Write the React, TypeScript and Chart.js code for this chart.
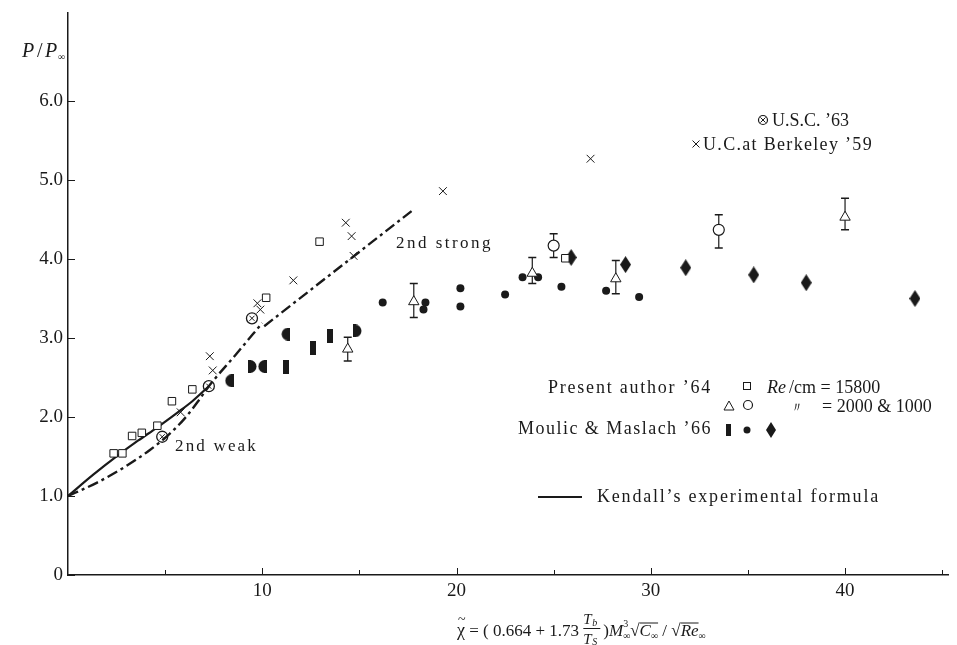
import React, { useEffect, useRef } from 'react';
import { Chart, registerables } from 'chart.js';
Chart.register(...registerables);

// ---- data ----
const squareX = [2.35, 2.8, 3.3, 3.8, 4.6, 5.35, 6.4, 10.2, 12.95, 25.6];
const squareY = [1.54, 1.54, 1.76, 1.8, 1.89, 2.2, 2.35, 3.51, 4.22, 4.01];
const crossX = [5.8, 7.3, 7.45, 9.75, 9.9, 11.6, 14.3, 14.6, 14.7, 19.3, 26.9];
const crossY = [2.06, 2.77, 2.59, 3.44, 3.36, 3.73, 4.46, 4.29, 4.04, 4.86, 5.27];
const uscX = [4.85, 7.25, 9.47];
const uscY = [1.75, 2.39, 3.25];
const triX = [14.4, 17.8, 23.9, 28.2, 40.0];
const triY = [2.86, 3.46, 3.82, 3.75, 4.53];
const triLo = [2.71, 3.26, 3.69, 3.56, 4.37];
const triHi = [3.01, 3.69, 4.02, 3.98, 4.77];
const circX = [25.0, 33.5];
const circY = [4.17, 4.37];
const circLo = [4.02, 4.14];
const circHi = [4.32, 4.56];
const barX = [11.2, 12.6, 13.5];
const barY = [2.63, 2.87, 3.02];
const halfLX = [8.3, 10.0, 11.2];
const halfLY = [2.46, 2.64, 3.05];
const halfRX = [9.5, 14.9];
const halfRY = [2.64, 3.09];
const dotX = [16.2, 18.4, 18.3, 20.2, 20.2, 22.5, 23.4, 24.2, 25.4, 27.7, 29.4];
const dotY = [3.45, 3.45, 3.36, 3.63, 3.4, 3.55, 3.77, 3.77, 3.65, 3.6, 3.52];
const diamondX = [25.9, 28.7, 31.8, 35.3, 38.0, 43.6];
const diamondY = [4.02, 3.93, 3.89, 3.8, 3.7, 3.5];
const kendallX = [0, 1.3, 2.6, 3.6, 4.6, 5.6, 6.4, 7.25];
const kendallY = [1.0, 1.27, 1.52, 1.7, 1.87, 2.05, 2.2, 2.39];
const weakX = [0, 1.5, 3.0, 4.2, 5.2, 6.0, 6.7, 7.25, 8.6, 10.0];
const weakY = [1.0, 1.17, 1.38, 1.58, 1.78, 1.98, 2.2, 2.39, 2.78, 3.19];
const strongX = [10.1, 17.7];
const strongY = [3.15, 4.61];
const yTickValues = [0, 1, 2, 3, 4, 5, 6];
const xTickValues = [5, 10, 15, 20, 25, 30, 35, 40, 45];
const xTickLabels = [10, 20, 30, 40];

const INK = '#1a1a1a';
const SERIF = '"Liberation Serif", "DejaVu Serif", serif';

const pts = (xs: number[], ys: number[]) => xs.map((x, i) => ({ x, y: ys[i] }));
const errPts = (xs: number[], lo: number[], hi: number[]) => {
  const out: any[] = [];
  xs.forEach((x, i) => {
    out.push({ x, y: lo[i] }, { x, y: hi[i] }, { x, y: null });
  });
  return out;
};

function mk(w: number, h: number, draw: (g: CanvasRenderingContext2D) => void) {
  const c = document.createElement('canvas');
  c.width = w;
  c.height = h;
  const g = c.getContext('2d')!;
  g.fillStyle = INK;
  g.strokeStyle = INK;
  draw(g);
  return c;
}

export default function App() {
  const ref = useRef<HTMLCanvasElement>(null);
  useEffect(() => {
    document.body.style.margin = '0';
    const diamondImg = mk(11, 17, (g) => {
      g.beginPath();
      g.moveTo(5.5, 0);
      g.lineTo(11, 8.5);
      g.lineTo(5.5, 17);
      g.lineTo(0, 8.5);
      g.closePath();
      g.fill();
    });
    const barImg = mk(6, 14, (g) => g.fillRect(0, 0, 6, 14));
    const halfLImg = mk(9, 13, (g) => {
      g.beginPath();
      g.arc(7, 6.5, 6.5, Math.PI / 2, (3 * Math.PI) / 2);
      g.closePath();
      g.fill();
      g.fillRect(6, 0, 3, 13);
    });
    const halfRImg = mk(9, 13, (g) => {
      g.beginPath();
      g.arc(2, 6.5, 6.5, -Math.PI / 2, Math.PI / 2);
      g.closePath();
      g.fill();
      g.fillRect(0, 0, 3, 13);
    });

    const drawSym = {
      square(ctx: CanvasRenderingContext2D, x: number, y: number) {
        ctx.lineWidth = 1;
        ctx.strokeRect(x - 3.5, y - 3.5, 7, 7);
      },
      tri(ctx: CanvasRenderingContext2D, x: number, y: number) {
        ctx.lineWidth = 1;
        ctx.beginPath();
        ctx.moveTo(x, y - 5);
        ctx.lineTo(x + 5, y + 4);
        ctx.lineTo(x - 5, y + 4);
        ctx.closePath();
        ctx.stroke();
      },
      circ(ctx: CanvasRenderingContext2D, x: number, y: number, r = 5) {
        ctx.lineWidth = 1.2;
        ctx.beginPath();
        ctx.arc(x, y, r, 0, Math.PI * 2);
        ctx.stroke();
      },
      cross(ctx: CanvasRenderingContext2D, x: number, y: number, r = 3.5) {
        ctx.lineWidth = 1;
        ctx.beginPath();
        ctx.moveTo(x - r, y - r);
        ctx.lineTo(x + r, y + r);
        ctx.moveTo(x + r, y - r);
        ctx.lineTo(x - r, y + r);
        ctx.stroke();
      },
    };

    const fitText = (ctx: any, text: string, x: number, y: number, w: number) => {
      ctx.letterSpacing = '0px';
      const m = ctx.measureText(text).width;
      const ls = text.length > 1 ? (w - m) / text.length : 0;
      ctx.letterSpacing = ls + 'px';
      ctx.fillText(text, x, y);
      ctx.letterSpacing = '0px';
    };

    const overlay = {
      id: 'overlay',
      afterDraw(chart: any) {
        const ctx: CanvasRenderingContext2D = chart.ctx;
        const xs = chart.scales.x;
        const ys = chart.scales.y;
        const ax = xs.left;
        const ay = ys.bottom;
        ctx.save();
        ctx.strokeStyle = INK;
        ctx.fillStyle = INK;
        // inward ticks
        ctx.lineWidth = 1;
        ctx.beginPath();
        yTickValues.forEach((v) => {
          const py = Math.round(ys.getPixelForValue(v)) + 0.5;
          ctx.moveTo(ax, py);
          ctx.lineTo(ax + 7, py);
        });
        xTickValues.forEach((v) => {
          const px = Math.round(xs.getPixelForValue(v)) + 0.5;
          ctx.moveTo(px, ay);
          ctx.lineTo(px, ay - (v % 10 === 0 ? 7 : 5));
        });
        ctx.stroke();

        ctx.textBaseline = 'alphabetic';
        ctx.textAlign = 'left';
        // y axis title
        ctx.font = `italic 20px ${SERIF}`;
        ctx.fillText('P', 22, 57);
        ctx.font = `20px ${SERIF}`;
        ctx.fillText('/', 37, 57);
        ctx.font = `italic 20px ${SERIF}`;
        ctx.fillText('P', 45, 57);
        ctx.font = `10px ${SERIF}`;
        ctx.fillText('∞', 58, 60);

        // curve labels
        ctx.font = `17px ${SERIF}`;
        fitText(ctx, '2nd weak', 175, 451, 83);
        fitText(ctx, '2nd strong', 396, 248, 97);

        // legend top right
        ctx.font = `18px ${SERIF}`;
        drawSym.circ(ctx, 763, 120, 4.5);
        drawSym.cross(ctx, 763, 120, 2.6);
        fitText(ctx, 'U.S.C. ’63', 772, 126, 77);
        drawSym.cross(ctx, 696, 144, 3.5);
        fitText(ctx, 'U.C.at Berkeley ’59', 703, 150, 170);

        // legend middle right
        ctx.font = `18px ${SERIF}`;
        fitText(ctx, 'Present author ’64', 548, 393, 164);
        drawSym.square(ctx, 747, 386);
        ctx.font = `italic 18px ${SERIF}`;
        ctx.fillText('Re', 767, 393);
        ctx.font = `18px ${SERIF}`;
        ctx.fillText('/cm = 15800', 789, 393);
        drawSym.tri(ctx, 729, 406);
        drawSym.circ(ctx, 748, 405, 4.5);
        ctx.font = `14px ${SERIF}`;
        ctx.fillText('〃', 790, 412);
        ctx.font = `18px ${SERIF}`;
        ctx.fillText('= 2000 & 1000', 822, 412);
        fitText(ctx, 'Moulic & Maslach ’66', 518, 434, 194);
        ctx.fillRect(726, 424, 5, 12);
        ctx.beginPath();
        ctx.arc(747, 430, 3.5, 0, Math.PI * 2);
        ctx.fill();
        ctx.beginPath();
        ctx.moveTo(771, 422);
        ctx.lineTo(776, 430);
        ctx.lineTo(771, 438);
        ctx.lineTo(766, 430);
        ctx.closePath();
        ctx.fill();
        ctx.lineWidth = 2;
        ctx.beginPath();
        ctx.moveTo(538, 497);
        ctx.lineTo(582, 497);
        ctx.stroke();
        ctx.font = `18px ${SERIF}`;
        fitText(ctx, 'Kendall’s experimental formula', 597, 502, 283);

        // x axis formula
        let cx = 457;
        const by = 636;
        const seg = (t: string, font: string, dy = 0, adv = true) => {
          ctx.font = font;
          ctx.fillText(t, cx, by + dy);
          const w = ctx.measureText(t).width;
          if (adv) cx += w;
          return w;
        };
        const f17 = `17px ${SERIF}`;
        const i17 = `italic 17px ${SERIF}`;
        const f10 = `10px ${SERIF}`;
        const chiX = cx;
        seg('χ', `18px ${SERIF}`);
        ctx.font = `14px ${SERIF}`;
        ctx.fillText('~', chiX + 1, by - 12);
        seg(' = ( 0.664 + 1.73 ', f17);
        // fraction
        const fx = cx;
        ctx.font = `italic 15px ${SERIF}`;
        ctx.fillText('T', fx, by - 12);
        ctx.font = `italic 10px ${SERIF}`;
        ctx.fillText('b', fx + 9, by - 10);
        ctx.lineWidth = 1;
        ctx.beginPath();
        ctx.moveTo(fx, by - 7.5);
        ctx.lineTo(fx + 17, by - 7.5);
        ctx.stroke();
        ctx.font = `italic 15px ${SERIF}`;
        ctx.fillText('T', fx, by + 8);
        ctx.font = `italic 10px ${SERIF}`;
        ctx.fillText('S', fx + 9, by + 9);
        cx += 20;
        seg(')', f17);
        seg('M', i17);
        seg('3', f10, -9, false);
        seg('∞', f10, 3);
        seg('√', f17);
        const c0 = cx;
        seg('C', i17);
        seg('∞', f10, 3);
        ctx.beginPath();
        ctx.moveTo(c0, by - 13);
        ctx.lineTo(cx, by - 13);
        ctx.stroke();
        seg(' / ', f17);
        seg('√', f17);
        const r0 = cx;
        seg('Re', i17);
        ctx.beginPath();
        ctx.moveTo(r0, by - 13);
        ctx.lineTo(cx, by - 13);
        ctx.stroke();
        seg('∞', f10, 3);
        ctx.restore();
      },
    };

    const base = { showLine: false, borderColor: INK, order: 1 };
    const chart = new Chart(ref.current!, {
      type: 'scatter',
      data: {
        datasets: [
          { ...base, data: pts(squareX, squareY), pointStyle: 'rect', pointRadius: 5.3, borderWidth: 1, backgroundColor: 'white' },
          { ...base, data: pts(crossX, crossY), pointStyle: 'crossRot', pointRadius: 5.5, borderWidth: 1 },
          { ...base, data: pts(uscX, uscY), pointStyle: 'circle', pointRadius: 5.5, borderWidth: 1.3, backgroundColor: 'rgba(0,0,0,0)' },
          { ...base, data: pts(uscX, uscY), pointStyle: 'crossRot', pointRadius: 3.6, borderWidth: 1 },
          { ...base, data: pts(triX, triY), pointStyle: 'triangle', pointRadius: 6, borderWidth: 1, backgroundColor: 'white', order: 0 },
          { ...base, data: pts(circX, circY), pointStyle: 'circle', pointRadius: 5.5, borderWidth: 1.2, backgroundColor: 'white', order: 0 },
          { ...base, data: errPts(triX, triLo, triHi), showLine: true, spanGaps: false, borderWidth: 1.2, pointStyle: 'line', pointRadius: 4, pointBorderWidth: 1.5, order: 2 },
          { ...base, data: errPts(circX, circLo, circHi), showLine: true, spanGaps: false, borderWidth: 1.2, pointStyle: 'line', pointRadius: 4, pointBorderWidth: 1.5, order: 2 },
          { ...base, data: pts(barX, barY), pointStyle: barImg as any, pointRadius: 6 },
          { ...base, data: pts(halfLX, halfLY), pointStyle: halfLImg as any, pointRadius: 6 },
          { ...base, data: pts(halfRX, halfRY), pointStyle: halfRImg as any, pointRadius: 6 },
          { ...base, data: pts(dotX, dotY), pointStyle: 'circle', pointRadius: 4, borderWidth: 0, backgroundColor: INK },
          { ...base, data: pts(diamondX, diamondY), pointStyle: diamondImg as any, pointRadius: 8 },
          { ...base, data: pts(kendallX, kendallY), showLine: true, pointRadius: 0, borderWidth: 2.2, cubicInterpolationMode: 'monotone', order: 5 },
          { ...base, data: pts(weakX, weakY), showLine: true, pointRadius: 0, borderWidth: 2.4, borderDash: [11, 4, 3, 4], cubicInterpolationMode: 'monotone', order: 5 },
          { ...base, data: pts(strongX, strongY), showLine: true, pointRadius: 0, borderWidth: 2.4, borderDash: [11, 4, 3, 4], order: 5 },
        ] as any,
      },
      options: {
        animation: false,
        responsive: false,
        devicePixelRatio: 1,
        layout: { padding: { left: 0, top: 10, right: 0, bottom: 0 } },
        plugins: { legend: { display: false }, tooltip: { enabled: false } },
        scales: {
          x: {
            type: 'linear',
            min: 0,
            max: 45.3,
            grid: { display: false, drawTicks: false },
            border: { display: true, color: INK, width: 1.5 },
            afterFit: (s: any) => { s.height = 70; },
            afterBuildTicks: (s: any) => { s.ticks = xTickValues.map((value) => ({ value })); },
            ticks: {
              padding: 7,
              color: INK,
              font: { family: SERIF, size: 19, lineHeight: 1 },
              maxRotation: 0,
              autoSkip: false,
              callback: (v: any) => (xTickLabels.includes(v) ? String(v) : ''),
            },
          },
          y: {
            type: 'linear',
            min: 0,
            max: 7.12,
            grid: { display: false, drawTicks: false },
            border: { display: true, color: INK, width: 1.5 },
            afterFit: (s: any) => { s.width = 68; },
            afterBuildTicks: (s: any) => { s.ticks = yTickValues.map((value) => ({ value })); },
            ticks: {
              padding: 5,
              color: INK,
              font: { family: SERIF, size: 19, lineHeight: 0.8 },
              autoSkip: false,
              callback: (v: any) => (v === 0 ? '0' : Number(v).toFixed(1)),
            },
          },
        },
      },
      plugins: [overlay],
    });
    return () => chart.destroy();
  }, []);
  return <canvas ref={ref} width={957} height={645} style={{ display: 'block' }} />;
}
